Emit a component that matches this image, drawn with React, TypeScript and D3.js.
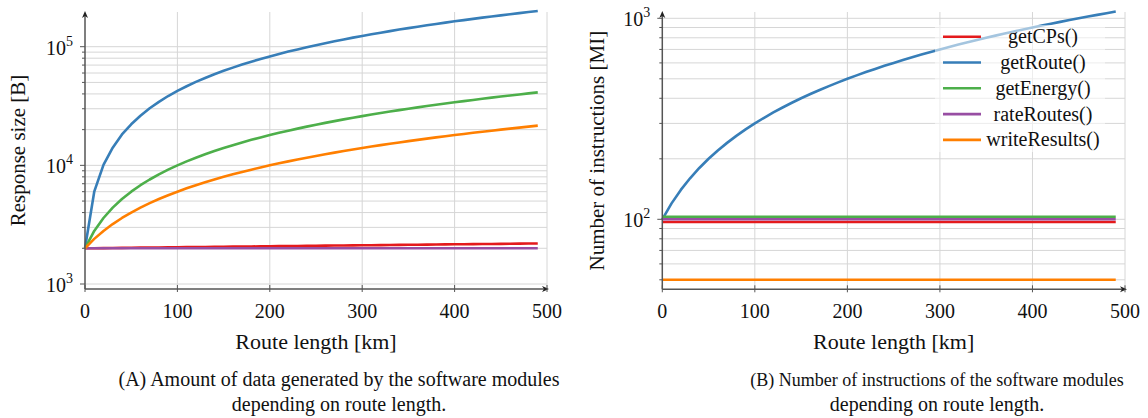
import React, { useEffect, useRef } from 'react';
import * as d3 from 'd3';

// route length samples [km]
const routeKm = [
  0, 10, 20, 30, 40, 50, 60, 70, 80, 90,
  100, 110, 120, 130, 140, 150, 160, 170, 180, 190,
  200, 210, 220, 230, 240, 250, 260, 270, 280, 290,
  300, 310, 320, 330, 340, 350, 360, 370, 380, 390,
  400, 410, 420, 430, 440, 450, 460, 470, 480, 490,
];

// (A) response size [B]
const sizeGetCPs = [
  2000, 2004, 2008, 2012, 2016, 2020, 2024, 2028, 2032, 2036,
  2040, 2044, 2048, 2052, 2056, 2060, 2064, 2068, 2072, 2076,
  2080, 2084, 2088, 2092, 2096, 2100, 2104, 2108, 2112, 2116,
  2120, 2124, 2128, 2132, 2136, 2140, 2144, 2148, 2152, 2156,
  2160, 2164, 2168, 2172, 2176, 2180, 2184, 2188, 2192, 2196,
];
const sizeGetRoute = [
  2000, 6000, 10100, 14100, 18200, 22200, 26200, 30300, 34300, 38400,
  42400, 46400, 50500, 54500, 58600, 62600, 66600, 70700, 74700, 78800,
  82800, 86800, 90900, 94900, 99000, 103000, 107000, 111100, 115100, 119200,
  123200, 127200, 131300, 135300, 139400, 143400, 147400, 151500, 155500, 159600,
  163600, 167600, 171700, 175700, 179800, 183800, 187800, 191900, 195900, 200000,
];
const sizeGetEnergy = [
  2000, 2800, 3600, 4400, 5200, 6000, 6800, 7600, 8400, 9200,
  10000, 10800, 11600, 12400, 13200, 14000, 14800, 15600, 16400, 17200,
  18000, 18800, 19600, 20400, 21200, 22000, 22800, 23600, 24400, 25200,
  26000, 26800, 27600, 28400, 29200, 30000, 30800, 31600, 32400, 33200,
  34000, 34800, 35600, 36400, 37200, 38000, 38800, 39600, 40400, 41200,
];
const sizeRateRoutes = [
  2000, 2000, 2000, 2000, 2000, 2000, 2000, 2000, 2000, 2000,
  2000, 2000, 2000, 2000, 2000, 2000, 2000, 2000, 2000, 2000,
  2000, 2000, 2000, 2000, 2000, 2000, 2000, 2000, 2000, 2000,
  2000, 2000, 2000, 2000, 2000, 2000, 2000, 2000, 2000, 2000,
  2000, 2000, 2000, 2000, 2000, 2000, 2000, 2000, 2000, 2000,
];
const sizeWriteResults = [
  2000, 2400, 2800, 3200, 3600, 4000, 4400, 4800, 5200, 5600,
  6000, 6400, 6800, 7200, 7600, 8000, 8400, 8800, 9200, 9600,
  10000, 10400, 10800, 11200, 11600, 12000, 12400, 12800, 13200, 13600,
  14000, 14400, 14800, 15200, 15600, 16000, 16400, 16800, 17200, 17600,
  18000, 18400, 18800, 19200, 19600, 20000, 20400, 20800, 21200, 21600,
];

// (B) number of instructions [MI]
const instrGetCPs = [
  97, 97, 97, 97, 97, 97, 97, 97, 97, 97,
  97, 97, 97, 97, 97, 97, 97, 97, 97, 97,
  97, 97, 97, 97, 97, 97, 97, 97, 97, 97,
  97, 97, 97, 97, 97, 97, 97, 97, 97, 97,
  97, 97, 97, 97, 97, 97, 97, 97, 97, 97,
];
const instrGetRoute = [
  100, 120, 140, 160, 180, 200, 220, 240, 260, 280,
  300, 320, 340, 360, 380, 400, 420, 440, 460, 480,
  500, 520, 540, 560, 580, 600, 620, 640, 660, 680,
  700, 720, 740, 760, 780, 800, 820, 840, 860, 880,
  900, 920, 940, 960, 980, 1000, 1020, 1040, 1060, 1080,
];
const instrGetEnergy = [
  103, 103, 103, 103, 103, 103, 103, 103, 103, 103,
  103, 103, 103, 103, 103, 103, 103, 103, 103, 103,
  103, 103, 103, 103, 103, 103, 103, 103, 103, 103,
  103, 103, 103, 103, 103, 103, 103, 103, 103, 103,
  103, 103, 103, 103, 103, 103, 103, 103, 103, 103,
];
const instrRateRoutes = [
  100, 100, 100, 100, 100, 100, 100, 100, 100, 100,
  100, 100, 100, 100, 100, 100, 100, 100, 100, 100,
  100, 100, 100, 100, 100, 100, 100, 100, 100, 100,
  100, 100, 100, 100, 100, 100, 100, 100, 100, 100,
  100, 100, 100, 100, 100, 100, 100, 100, 100, 100,
];
const instrWriteResults = [
  50, 50, 50, 50, 50, 50, 50, 50, 50, 50,
  50, 50, 50, 50, 50, 50, 50, 50, 50, 50,
  50, 50, 50, 50, 50, 50, 50, 50, 50, 50,
  50, 50, 50, 50, 50, 50, 50, 50, 50, 50,
  50, 50, 50, 50, 50, 50, 50, 50, 50, 50,
];

const moduleNames = ['getCPs()', 'getRoute()', 'getEnergy()', 'rateRoutes()', 'writeResults()'];
const moduleColors = ['#e41a1c', '#377eb8', '#4daf4a', '#984ea3', '#ff7f00'];

const xTicks = [0, 100, 200, 300, 400, 500];
const sizeTicks = [1e3, 1e4, 1e5];
const instrTicks = [1e2, 1e3];

const captionA = ['(A) Amount of data generated by the software modules', 'depending on route length.'];
const captionB = ['(B) Number of instructions of the software modules', 'depending on route length.'];

const FONT = '"Liberation Serif", "Times New Roman", Times, "DejaVu Serif", serif';

type Panel = {
  left: number;
  right: number;
  top: number;
  bottom: number;
  yDomain: [number, number];
  yRange: [number, number];
  yTicks: number[];
  yLabel: string;
  yLabelX: number;
  series: number[][];
  caption: string[];
  captionX: number;
  captionSize: number[];
  legend: boolean;
};

const drawPanel = (svg: d3.Selection<SVGSVGElement, unknown, null, undefined>, p: Panel) => {
  const x = d3.scaleLinear().domain([0, 500]).range([p.left, p.right]);
  const y = d3.scaleLog().domain(p.yDomain).range(p.yRange);
  const yVis = y.copy().domain([y.invert(p.bottom), y.invert(p.top)]).range([p.bottom, p.top]);

  const g = svg.append('g').attr('font-family', FONT).attr('fill', '#111');

  // grid
  const minor = yVis.ticks().filter(v => y(v) >= p.top - 0.5 && y(v) <= p.bottom - 1);
  g.selectAll('.hgrid')
    .data(minor)
    .enter()
    .append('line')
    .attr('x1', p.left)
    .attr('x2', p.right)
    .attr('y1', d => y(d))
    .attr('y2', d => y(d))
    .style('stroke', '#d6d6d6')
    .style('stroke-width', 1);

  g.selectAll('.vgrid')
    .data(xTicks.slice(1))
    .enter()
    .append('line')
    .attr('x1', d => x(d))
    .attr('x2', d => x(d))
    .attr('y1', p.top)
    .attr('y2', p.bottom)
    .style('stroke', '#d6d6d6')
    .style('stroke-width', 1);

  // lines
  const line = d3.line<number>()
    .x((d, i) => x(routeKm[i]))
    .y(d => y(d));

  p.series.forEach((s, i) => {
    g.append('path')
      .datum(s)
      .attr('d', line)
      .style('fill', 'none')
      .style('stroke', moduleColors[i])
      .style('stroke-width', 2.6)
      .style('stroke-linejoin', 'round');
  });

  // axes
  const axisColor = '#555';
  g.append('line')
    .attr('x1', p.left).attr('x2', p.left)
    .attr('y1', p.bottom).attr('y2', p.top + 2)
    .style('stroke', axisColor).style('stroke-width', 1.5);
  g.append('path')
    .attr('d', `M${p.left},${p.top - 1} l-3,7 l3,-2 l3,2 z`)
    .style('fill', '#222');
  g.append('line')
    .attr('x1', p.left).attr('x2', p.right)
    .attr('y1', p.bottom).attr('y2', p.bottom)
    .style('stroke', axisColor).style('stroke-width', 1.5);
  g.append('path')
    .attr('d', `M${p.right + 2},${p.bottom} l-7,-3 l2,3 l-2,3 z`)
    .style('fill', '#222');

  // y ticks
  g.selectAll('.ymin')
    .data(minor)
    .enter()
    .append('line')
    .attr('x1', d => p.yTicks.includes(d) ? p.left - 5 : p.left - 3)
    .attr('x2', p.left)
    .attr('y1', d => y(d))
    .attr('y2', d => y(d))
    .style('stroke', axisColor)
    .style('stroke-width', 1);

  const yl = g.selectAll('.ylab')
    .data(p.yTicks)
    .enter()
    .append('text')
    .attr('x', p.left - 12)
    .attr('y', d => y(d) + 8)
    .attr('text-anchor', 'end')
    .attr('font-size', 20);
  yl.append('tspan').text('10');
  yl.append('tspan')
    .attr('dy', -9)
    .attr('font-size', 14)
    .text(d => String(Math.round(Math.log10(d))));

  // x ticks
  g.selectAll('.xtick')
    .data(xTicks)
    .enter()
    .append('line')
    .attr('x1', d => x(d))
    .attr('x2', d => x(d))
    .attr('y1', p.bottom - 4)
    .attr('y2', p.bottom + 3)
    .style('stroke', axisColor)
    .style('stroke-width', 1);

  g.selectAll('.xlab')
    .data(xTicks)
    .enter()
    .append('text')
    .attr('x', d => x(d))
    .attr('y', 318)
    .attr('text-anchor', 'middle')
    .attr('font-size', 20)
    .text(d => d);

  // axis labels
  g.append('text')
    .attr('x', (p.left + p.right) / 2)
    .attr('y', 349)
    .attr('text-anchor', 'middle')
    .attr('font-size', 22)
    .text('Route length [km]');

  g.append('text')
    .attr('transform', `translate(${p.yLabelX}, ${(p.top + p.bottom) / 2}) rotate(-90)`)
    .attr('text-anchor', 'middle')
    .attr('font-size', 21)
    .text(p.yLabel);

  // legend
  if (p.legend) {
    const lg = g.append('g');
    lg.append('rect')
      .attr('x', 935)
      .attr('y', 25)
      .attr('width', 170)
      .attr('height', 127)
      .style('fill', '#fff')
      .style('fill-opacity', 0.55);
    moduleNames.forEach((name, i) => {
      const cy = 36.7 + i * 25.8;
      lg.append('line')
        .attr('x1', 943).attr('x2', 981)
        .attr('y1', cy).attr('y2', cy)
        .style('stroke', moduleColors[i])
        .style('stroke-width', 2.6);
      lg.append('text')
        .attr('x', 1043)
        .attr('y', cy + 6.5)
        .attr('text-anchor', 'middle')
        .attr('font-size', 20)
        .text(name);
    });
  }

  // caption
  p.caption.forEach((t, i) => {
    g.append('text')
      .attr('x', p.captionX)
      .attr('y', 386 + i * 25)
      .attr('text-anchor', 'middle')
      .attr('font-size', p.captionSize[i])
      .text(t);
  });
};

const App = () => {
  const ref = useRef<SVGSVGElement | null>(null);

  useEffect(() => {
    if (!ref.current) return;
    const svg = d3.select(ref.current);
    svg.selectAll('*').remove();

    drawPanel(svg, {
      left: 85,
      right: 547,
      top: 12,
      bottom: 289,
      yDomain: [1e3, 1e5],
      yRange: [284, 46.7],
      yTicks: sizeTicks,
      yLabel: 'Response size [B]',
      yLabelX: 25,
      series: [sizeGetCPs, sizeGetRoute, sizeGetEnergy, sizeRateRoutes, sizeWriteResults],
      caption: captionA,
      captionX: 339,
      captionSize: [20, 20],
      legend: false,
    });

    drawPanel(svg, {
      left: 662.3,
      right: 1125,
      top: 12,
      bottom: 289.3,
      yDomain: [1e2, 1e3],
      yRange: [219.3, 18.3],
      yTicks: instrTicks,
      yLabel: 'Number of instructions [MI]',
      yLabelX: 604,
      series: [instrGetCPs, instrGetRoute, instrGetEnergy, instrRateRoutes, instrWriteResults],
      caption: captionB,
      captionX: 937,
      captionSize: [18, 20],
      legend: true,
    });
  }, []);

  return (
    <svg
      ref={ref}
      width={1148}
      height={418}
      style={{ position: 'absolute', left: 0, top: 0, background: '#fff' }}
    />
  );
};

export default App;
